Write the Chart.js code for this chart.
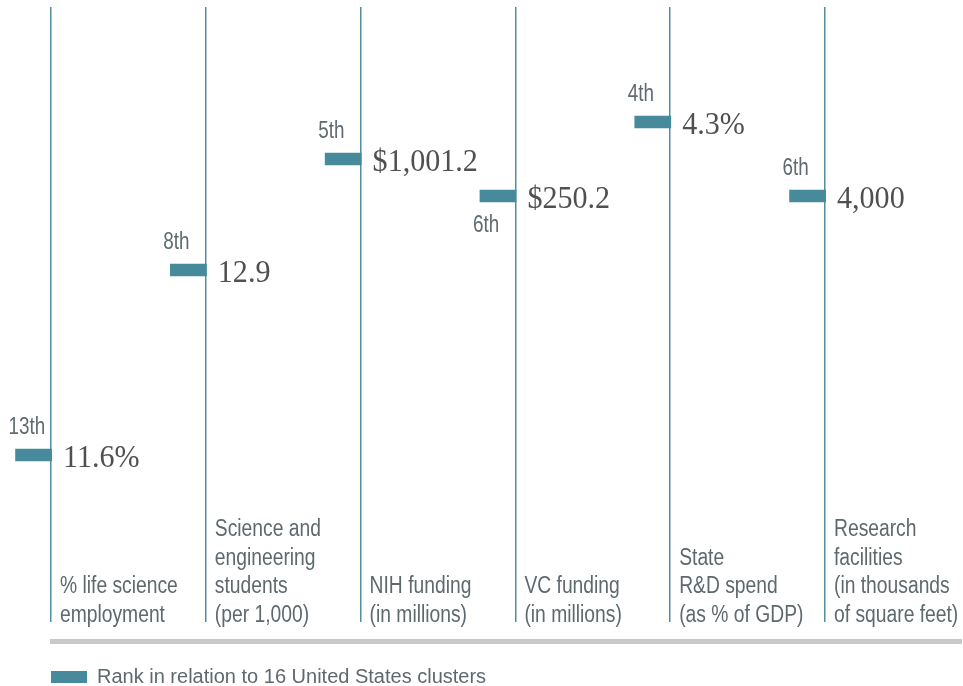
<!DOCTYPE html>
<html><head><meta charset="utf-8">
<script src="https://cdn.jsdelivr.net/npm/chart.js@4/dist/chart.umd.min.js"></script>
<style>html,body{margin:0;padding:0;background:#fff;}#wrap{width:963px;height:686px;}</style>
</head><body><div id="wrap"><canvas id="c" width="963" height="686"></canvas></div>
<script>
// ---- data ----
const categories = [
  ['% life science', 'employment'],
  ['Science and', 'engineering', 'students', '(per 1,000)'],
  ['NIH funding', '(in millions)'],
  ['VC funding', '(in millions)'],
  ['State', 'R&D spend', '(as % of GDP)'],
  ['Research', 'facilities', '(in thousands', 'of square feet)']
];
const ranks = [13, 8, 5, 6, 4, 6];
const rankLabels = ['13th', '8th', '5th', '6th', '4th', '6th'];
const valueLabels = ['11.6%', '12.9', '$1,001.2', '$250.2', '4.3%', '4,000'];
const seriesLabel = 'Rank in relation to 16 United States clusters';

// ---- font detection ----
function hasFont(name) {
  const c = document.createElement('canvas').getContext('2d');
  const s = 'abcdefghijklmnopqrstuvwxyzABCDEFGHIJ0123456789';
  let diff = false;
  for (const fb of ['monospace', 'serif']) {
    c.font = '40px ' + fb; const w1 = c.measureText(s).width;
    c.font = "40px '" + name + "', " + fb; const w2 = c.measureText(s).width;
    if (Math.abs(w1 - w2) > 0.5) diff = true;
  }
  return diff;
}
let narrow = null;
for (const n of ['Liberation Sans Narrow', 'Arial Narrow']) { if (hasFont(n)) { narrow = n; break; } }
const SANS = narrow ? "'" + narrow + "'" : "'Liberation Sans', Arial, sans-serif";
const SANS_SX = narrow ? 1 : 0.82;
const SERIF = "'Liberation Serif', 'Times New Roman', serif";

const MARK_SPAN = 0.229;
const belowLabel = [false, false, false, true, false, false];

function drawText(ctx, str, px, py, font, color, sx) {
  ctx.save();
  ctx.font = font;
  ctx.fillStyle = color;
  ctx.textAlign = 'left';
  ctx.textBaseline = 'alphabetic';
  ctx.translate(px, py);
  ctx.scale(sx, 1);
  ctx.fillText(str, 0, 0);
  ctx.restore();
}

const annotPlugin = {
  id: 'annot',
  afterDatasetsDraw(chart) {
    const {ctx, chartArea, scales} = chart;
    const xs = scales.x, ys = scales.y;
    ctx.save();
    // bottom gray rule
    ctx.fillStyle = '#c9c9c9';
    ctx.fillRect(chartArea.left - 1, chartArea.bottom + 17, chart.width - chartArea.left, 5);
    ranks.forEach((r, i) => {
      const lx = xs.getPixelForValue(i);
      const cy = ys.getPixelForValue(r);
      const mx = xs.getPixelForValue(i - MARK_SPAN);
      // rank label
      drawText(ctx, rankLabels[i], mx - 7, belowLabel[i] ? cy + 36 : cy - 20.5,
        '23px ' + SANS, '#5f6b71', SANS_SX);
      // value label
      drawText(ctx, valueLabels[i], lx + 12, cy + 12, '32px ' + SERIF, '#505050', 0.94);
      // category label (bottom aligned)
      const lines = categories[i];
      const lh = 28.6;
      lines.forEach((t, k) => {
        const by = chartArea.bottom - (lines.length - 1 - k) * lh;
        drawText(ctx, t, lx + 9, by, '23.5px ' + SANS, '#5e696e', SANS_SX);
      });
    });
    ctx.restore();
  }
};

const markColor = '#468a9b';
new Chart(document.getElementById('c'), {
  type: 'bar',
  data: {
    datasets: [{
      label: seriesLabel,
      data: ranks.map((r, i) => ({ y: r, x: [i - MARK_SPAN, i + 0.004] })),
      backgroundColor: markColor,
      borderWidth: 0,
      barThickness: 12,
      clip: false
    }]
  },
  options: {
    indexAxis: 'y',
    responsive: false,
    animation: false,
    devicePixelRatio: 1,
    layout: { padding: { left: 51, right: 138, top: 7, bottom: -11 } },
    scales: {
      x: {
        type: 'linear', min: 0, max: 5,
        ticks: { display: false, stepSize: 1 },
        grid: { color: '#4f8fa0', lineWidth: 1.5, drawTicks: false },
        border: { display: false },
        afterFit: (s) => { s.height = 45; }
      },
      y: {
        type: 'linear', reverse: true, min: 0.892, max: 17.514,
        offset: false, beginAtZero: false, grace: 0,
        grid: { offset: false },
        display: false
      }
    },
    plugins: {
      tooltip: { enabled: false },
      legend: {
        position: 'bottom', align: 'start',
        labels: {
          boxWidth: 36, boxHeight: 12, padding: 0,
          color: '#5e696e',
          font: narrow ? { family: SANS, size: 24 } : { family: SANS, size: 20 }
        }
      }
    }
  },
  plugins: [annotPlugin]
});
</script>
</body></html>
